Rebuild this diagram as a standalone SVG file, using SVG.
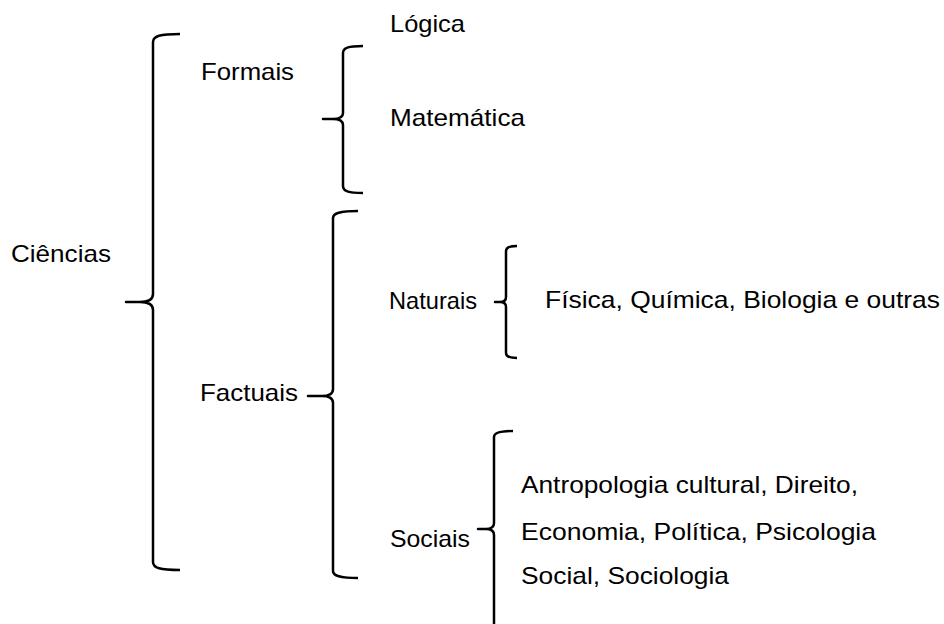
<svg xmlns="http://www.w3.org/2000/svg" width="944" height="624" viewBox="0 0 944 624">
<style>
  text { font-family: "Liberation Sans", Arial, sans-serif; font-size: 24px; fill: #000; }
  .brace { fill: none; stroke: #000; stroke-width: 2.5; stroke-linejoin: round; stroke-linecap: butt; }
</style>
<rect width="944" height="624" fill="#fff"/>
<g id="connectors">
  <path class="brace" d="M180,34 C160,34 153,36 153,42 L153,294 Q153,302 140,302 L126,302 L140,302 Q153,302 153,310 L153,562 C153,568 160,570 180,570"/>
  <path class="brace" d="M363,46 C348,46 343,48 343,53 L343,113 Q343,119 333,119 L323,119 L333,119 Q343,119 343,125 L343,186 C343,191 348,193 363,193"/>
  <path class="brace" d="M358,211 C340,211 333,213 333,218 L333,389 Q333,396 322,396 L308,396 L322,396 Q333,396 333,403 L333,571 C333,576 340,578 358,578"/>
  <path class="brace" d="M517,246 C510,246 506,247 506,251 L506,297 Q506,302 500,302 L495,302 L500,302 Q506,302 506,307 L506,353 C506,357 510,358 517,358"/>
  <path class="brace" d="M513,431 C500,431 494,433 494,437 L494,523 Q494,529 486,529 L478,529 L486,529 Q494,529 494,535 L494,624"/>
</g>
<g id="ciencias"><text x="11" y="262" textLength="100" lengthAdjust="spacingAndGlyphs">Ciências</text></g>
<g id="formais"><text x="201" y="80" textLength="93" lengthAdjust="spacingAndGlyphs">Formais</text></g>
<g id="logica"><text x="390" y="32" textLength="75" lengthAdjust="spacingAndGlyphs">Lógica</text></g>
<g id="matematica"><text x="390" y="126" textLength="135" lengthAdjust="spacingAndGlyphs">Matemática</text></g>
<g id="factuais"><text x="200" y="401" textLength="98" lengthAdjust="spacingAndGlyphs">Factuais</text></g>
<g id="naturais"><text x="389" y="309" textLength="88" lengthAdjust="spacingAndGlyphs">Naturais</text></g>
<g id="naturais-lista"><text x="545" y="308" textLength="395" lengthAdjust="spacingAndGlyphs">Física, Química, Biologia e outras</text></g>
<g id="sociais"><text x="390" y="547" textLength="80" lengthAdjust="spacingAndGlyphs">Sociais</text></g>
<g id="sociais-lista">
  <text x="521" y="493" textLength="337" lengthAdjust="spacingAndGlyphs">Antropologia cultural, Direito,</text>
  <text x="521" y="540" textLength="355" lengthAdjust="spacingAndGlyphs">Economia, Política, Psicologia</text>
  <text x="521" y="584" textLength="208" lengthAdjust="spacingAndGlyphs">Social, Sociologia</text>
</g>
</svg>
